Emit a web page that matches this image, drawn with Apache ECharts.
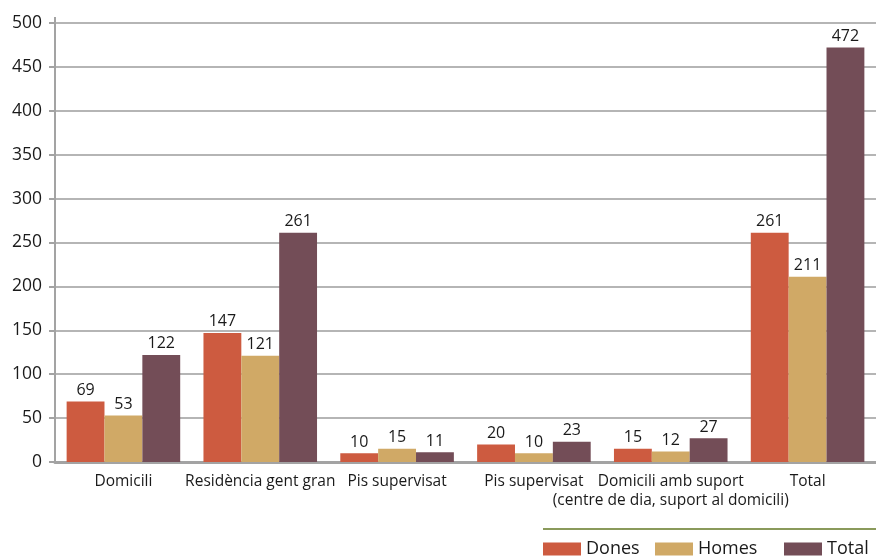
<!DOCTYPE html>
<html><head><meta charset="utf-8">
<script src="https://cdn.jsdelivr.net/npm/echarts@6/dist/echarts.min.js"></script>
<style>html,body{margin:0;padding:0;background:#fff}#c{width:876px;height:560px}</style>
</head><body><div id="c"></div>
<script>
const categories = ["Domicili", "Residència gent gran", "Pis supervisat", "Pis supervisat", "Domicili amb suport\n(centre de dia, suport al domicili)", "Total"];
const dones = [69, 147, 10, 20, 15, 261];
const homes = [53, 121, 15, 10, 12, 211];
const total = [122, 261, 11, 23, 27, 472];
const seriesNames = ["Dones", "Homes", "Total"];
const colors = ["#CD5B40", "#D0A966", "#734D57"];
const font = "'Open Sans', sans-serif";
const legendLefts = [543, 655, 784];

const chart = echarts.init(document.getElementById('c'));
const mk = (name, data, color) => ({
  name, type: 'bar', data, barGap: '0%', barCategoryGap: '17%',
  itemStyle: { color },
  label: { show: true, position: 'top', distance: 3, color: '#1a1a1a', fontSize: 16, fontFamily: font }
});
chart.setOption({
  animation: false,
  textStyle: { fontFamily: font },
  grid: { left: 55, right: 0, top: 23, bottom: 98 },
  xAxis: {
    type: 'category', data: categories,
    axisLine: { lineStyle: { color: '#a3a3a3', width: 3 } },
    axisTick: { show: false },
    axisLabel: { color: '#1a1a1a', fontSize: 15.5, fontFamily: font, margin: 10, lineHeight: 19, interval: 0 }
  },
  yAxis: {
    type: 'value', min: 0, max: 500, interval: 50,
    axisLine: { show: true, lineStyle: { color: '#a3a3a3', width: 2 } },
    axisTick: { show: true, length: 6, lineStyle: { color: '#a3a3a3', width: 2 } },
    splitLine: { lineStyle: { color: '#b5b5b5', width: 2 } },
    axisLabel: { color: '#1a1a1a', fontSize: 17.5, fontFamily: font, margin: 13 }
  },
  legend: seriesNames.map((n, i) => ({
    data: [n], left: legendLefts[i], top: 540, padding: 0, itemWidth: 38, itemHeight: 13,
    icon: 'rect', textStyle: { color: '#1a1a1a', fontSize: 18, fontFamily: font }
  })),
  graphic: [
    { type: 'line', shape: { x1: 543, y1: 529, x2: 876, y2: 529 }, style: { stroke: '#8a9a5b', lineWidth: 2 } },
    { type: 'line', shape: { x1: 55, y1: 17, x2: 55, y2: 23 }, style: { stroke: '#a3a3a3', lineWidth: 2 } }
  ],
  series: [mk(seriesNames[0], dones, colors[0]), mk(seriesNames[1], homes, colors[1]), mk(seriesNames[2], total, colors[2])]
});
</script></body></html>
